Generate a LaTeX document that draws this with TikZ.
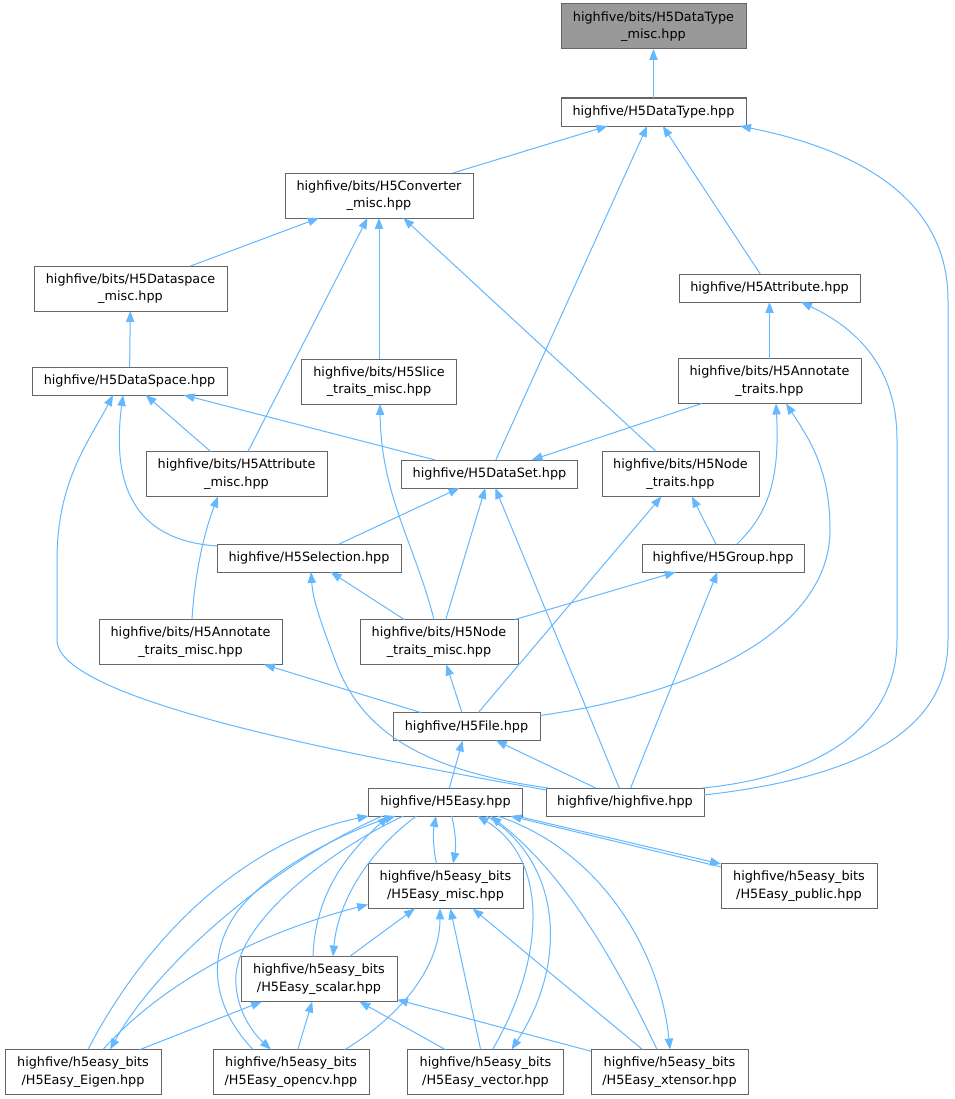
\documentclass[tikz,border=0pt]{standalone}
\usepackage{fontspec}
\setmainfont{DejaVu Sans}
\usetikzlibrary{arrows.meta,calc}
\definecolor{edgeblue}{HTML}{63B8FF}
\definecolor{boxline}{HTML}{666666}
\definecolor{rootfill}{HTML}{999999}
\begin{document}
\begin{tikzpicture}[x=0.75pt,y=-0.75pt,
  box/.style={draw=boxline, line width=0.75pt, fill=white, inner sep=0pt, outer sep=0pt,
    align=center, font=\fontsize{9.6}{13}\selectfont},
  sz/.style 2 args={minimum width={#1*0.75pt}, minimum height={#2*0.75pt}},
  inc/.style={draw=edgeblue, line width=0.75pt, -{Triangle[length=8.2pt,width=6.2pt]}}]
\fill[white] (0,0) rectangle (954,1099);
\useasboundingbox (0,0) rectangle (954,1099);
% nodes
\node[box,sz={185}{45},fill=rootfill] (dtm) at (653.5,26.5) {highfive/bits/H5DataType\\\_misc.hpp};
\node[box,sz={185}{28}] (dt) at (653.5,112) {highfive/H5DataType.hpp};
\node[box,sz={188}{45}] (conv) at (379,195.5) {highfive/bits/H5Converter\\\_misc.hpp};
\node[box,sz={193}{45}] (dsm) at (130.5,288.5) {highfive/bits/H5Dataspace\\\_misc.hpp};
\node[box,sz={181}{28}] (attr) at (769.5,288) {highfive/H5Attribute.hpp};
\node[box,sz={195}{28}] (ds) at (129.5,381) {highfive/H5DataSpace.hpp};
\node[box,sz={155}{45}] (slice) at (379,381.5) {highfive/bits/H5Slice\\\_traits\_misc.hpp};
\node[box,sz={183}{45}] (annt) at (769.5,381) {highfive/bits/H5Annotate\\\_traits.hpp};
\node[box,sz={181}{45}] (attrm) at (236.5,474) {highfive/bits/H5Attribute\\\_misc.hpp};
\node[box,sz={176}{28}] (dset) at (489.5,474) {highfive/H5DataSet.hpp};
\node[box,sz={157}{45}] (nodet) at (680.5,474) {highfive/bits/H5Node\\\_traits.hpp};
\node[box,sz={184}{28}] (sel) at (309,558) {highfive/H5Selection.hpp};
\node[box,sz={162}{28}] (group) at (723,558) {highfive/H5Group.hpp};
\node[box,sz={183}{45}] (anntm) at (190.5,642) {highfive/bits/H5Annotate\\\_traits\_misc.hpp};
\node[box,sz={158}{45}] (nodetm) at (439,642) {highfive/bits/H5Node\\\_traits\_misc.hpp};
\node[box,sz={147}{28}] (file) at (466.5,726.5) {highfive/H5File.hpp};
\node[box,sz={154}{28}] (easy) at (445.5,802) {highfive/H5Easy.hpp};
\node[box,sz={158}{28}] (hf) at (625,802) {highfive/highfive.hpp};
\node[box,sz={155}{45}] (misc) at (445.5,886) {highfive/h5easy\_bits\\/H5Easy\_misc.hpp};
\node[box,sz={156}{45}] (public) at (799,886) {highfive/h5easy\_bits\\/H5Easy\_public.hpp};
\node[box,sz={156}{45}] (scalar) at (319,979) {highfive/h5easy\_bits\\/H5Easy\_scalar.hpp};
\node[box,sz={156}{45}] (eigen) at (83,1072) {highfive/h5easy\_bits\\/H5Easy\_Eigen.hpp};
\node[box,sz={156}{45}] (opencv) at (291,1072) {highfive/h5easy\_bits\\/H5Easy\_opencv.hpp};
\node[box,sz={156}{45}] (vector) at (485.5,1072) {highfive/h5easy\_bits\\/H5Easy\_vector.hpp};
\node[box,sz={157}{45}] (xtensor) at (669.5,1072) {highfive/h5easy\_bits\\/H5Easy\_xtensor.hpp};
% straight edges
\draw[inc] (dt) -- (dtm);
\draw[inc] (conv) -- (dt);
\draw[inc] (dset) -- (dt);
\draw[inc] (attr) -- (dt);
\draw[inc] (dsm) -- (conv);
\draw[inc] (attrm) -- (conv);
\draw[inc] (slice) -- (conv);
\draw[inc] (nodet) -- (conv);
\draw[inc] (ds) -- (dsm);
\draw[inc] (annt) -- (attr);
\draw[inc] (attrm) -- (ds);
\draw[inc] (dset) -- (ds);
\draw[inc] (annt) -- (dset);
\draw[inc] (sel) -- (dset);
\draw[inc] (nodetm) -- (dset);
\draw[inc] (hf) -- (dset);
\draw[inc] (group) -- (nodet);
\draw[inc] (file) -- (nodet);
\draw[inc] (nodetm) -- (sel);
\draw[inc] (nodetm) -- (group);
\draw[inc] (hf) -- (group);
\draw[inc] (file) -- (anntm);
\draw[inc] (file) -- (nodetm);
\draw[inc] (easy) -- (file);
\draw[inc] (hf) -- (file);
\draw[inc] (scalar) -- (misc);
\draw[inc] (vector) -- (scalar);
\draw[inc] (xtensor) -- (scalar);
\draw[inc] (vector) -- (misc);
\draw[inc] (xtensor) -- (misc);
\draw[inc] (eigen) -- (scalar);
\draw[inc] (opencv) -- (scalar);
% curved edges, upper part
\draw[inc] ($(hf.north east)+(0,7)$) .. controls (880,775) and (948,720) .. (948,640) -- (948,300) .. controls (948,200) and (860,150) .. ($(dt.south east)+(-6,0)$);
\draw[inc] ($(hf.north east)+(-1,0)$) .. controls (830,775) and (897,720) .. (897,640) -- (897,440) .. controls (897,370) and (860,330) .. ($(attr.south east)+(-59,0)$);
\draw[inc] ($(sel.north west)+(0,2)$) .. controls (130,540) and (112,480) .. ($(ds.south west)+(91,0)$);
\draw[inc] ($(hf.north west)+(0,2)$) .. controls (350,755) and (57,700) .. (57,640) -- (57,560) .. controls (57,480) and (90,440) .. ($(ds.south west)+(81,0)$);
\draw[inc] ($(group.north west)+(95,0)$) .. controls (768,514) and (780,480) .. ($(annt.south west)+(98,0)$);
\draw[inc] ($(file.north east)+(0,3)$) .. controls (720,690) and (830,620) .. (830,530) .. controls (830,470) and (810,440) .. ($(annt.south west)+(108,0)$);
\draw[inc] ($(anntm.north)+(1.5,0)$) .. controls (195,570) and (205,530) .. ($(attrm.south west)+(72,0)$);
\draw[inc] ($(hf.north west)+(2,0)$) .. controls (420,770) and (360,730) .. (335,660) .. controls (320,620) and (313,600) .. ($(sel.south west)+(94,0)$);
\draw[inc] ($(nodetm.north west)+(74,0)$) .. controls (415,545) and (381,495) .. ($(slice.south)+(1,0)$);
% H5Easy cluster
\draw[inc] ($(misc.north west)+(68.5,0)$) .. controls (433,848) and (433,832) .. ($(easy.south west)+(67.5,0)$);
\draw[inc] ($(easy.south west)+(83,0)$) .. controls (456,832) and (456,848) .. ($(misc.north west)+(85,0)$);
\draw[inc] ($(easy.south east)+(-6,0)$) -- ($(public.north west)+(0,0.5)$);
\draw[inc] ($(public.north west)+(0,3.5)$) -- ($(easy.south east)+(-12,0)$);
\draw[inc] ($(eigen.north west)+(83,0)$) .. controls (150,930) and (250,840) .. (easy.south west);
\draw[inc] ($(easy.south west)+(14,0)$) .. controls (280,860) and (160,960) .. ($(eigen.north west)+(105,0)$);
\draw[inc] ($(eigen.north west)+(98,0)$) .. controls (170,975) and (270,930) .. ($(misc.south west)+(0,-4)$);
\draw[inc] ($(opencv.north west)+(40,0)$) .. controls (215,1010) and (205,960) .. (235,915) .. controls (265,870) and (350,830) .. ($(easy.south west)+(27,0)$);
\draw[inc] ($(easy.south west)+(35,0)$) .. controls (330,850) and (240,920) .. (236,975) .. controls (234,1010) and (255,1035) .. ($(opencv.north west)+(58,0)$);
\draw[inc] ($(scalar.north west)+(72,0)$) .. controls (315,900) and (340,860) .. ($(easy.south west)+(20,0)$);
\draw[inc] ($(easy.south west)+(48,0)$) .. controls (370,850) and (338,900) .. ($(scalar.north west)+(92,0)$);
\draw[inc] ($(opencv.north east)+(-24,0)$) .. controls (410,1010) and (440,960) .. ($(misc.south west)+(72,0)$);
\draw[inc] ($(vector.north west)+(85,0)$) .. controls (545,960) and (550,860) .. ($(easy.south west)+(109,0)$);
\draw[inc] ($(easy.south west)+(118,0)$) .. controls (560,860) and (570,960) .. ($(vector.north west)+(104,0)$);
\draw[inc] ($(xtensor.north west)+(66,0)$) .. controls (610,950) and (560,870) .. ($(easy.south west)+(122,0)$);
\draw[inc] ($(easy.south west)+(129,0)$) .. controls (600,850) and (660,950) .. ($(xtensor.north west)+(79,0)$);
\end{tikzpicture}
\end{document}
